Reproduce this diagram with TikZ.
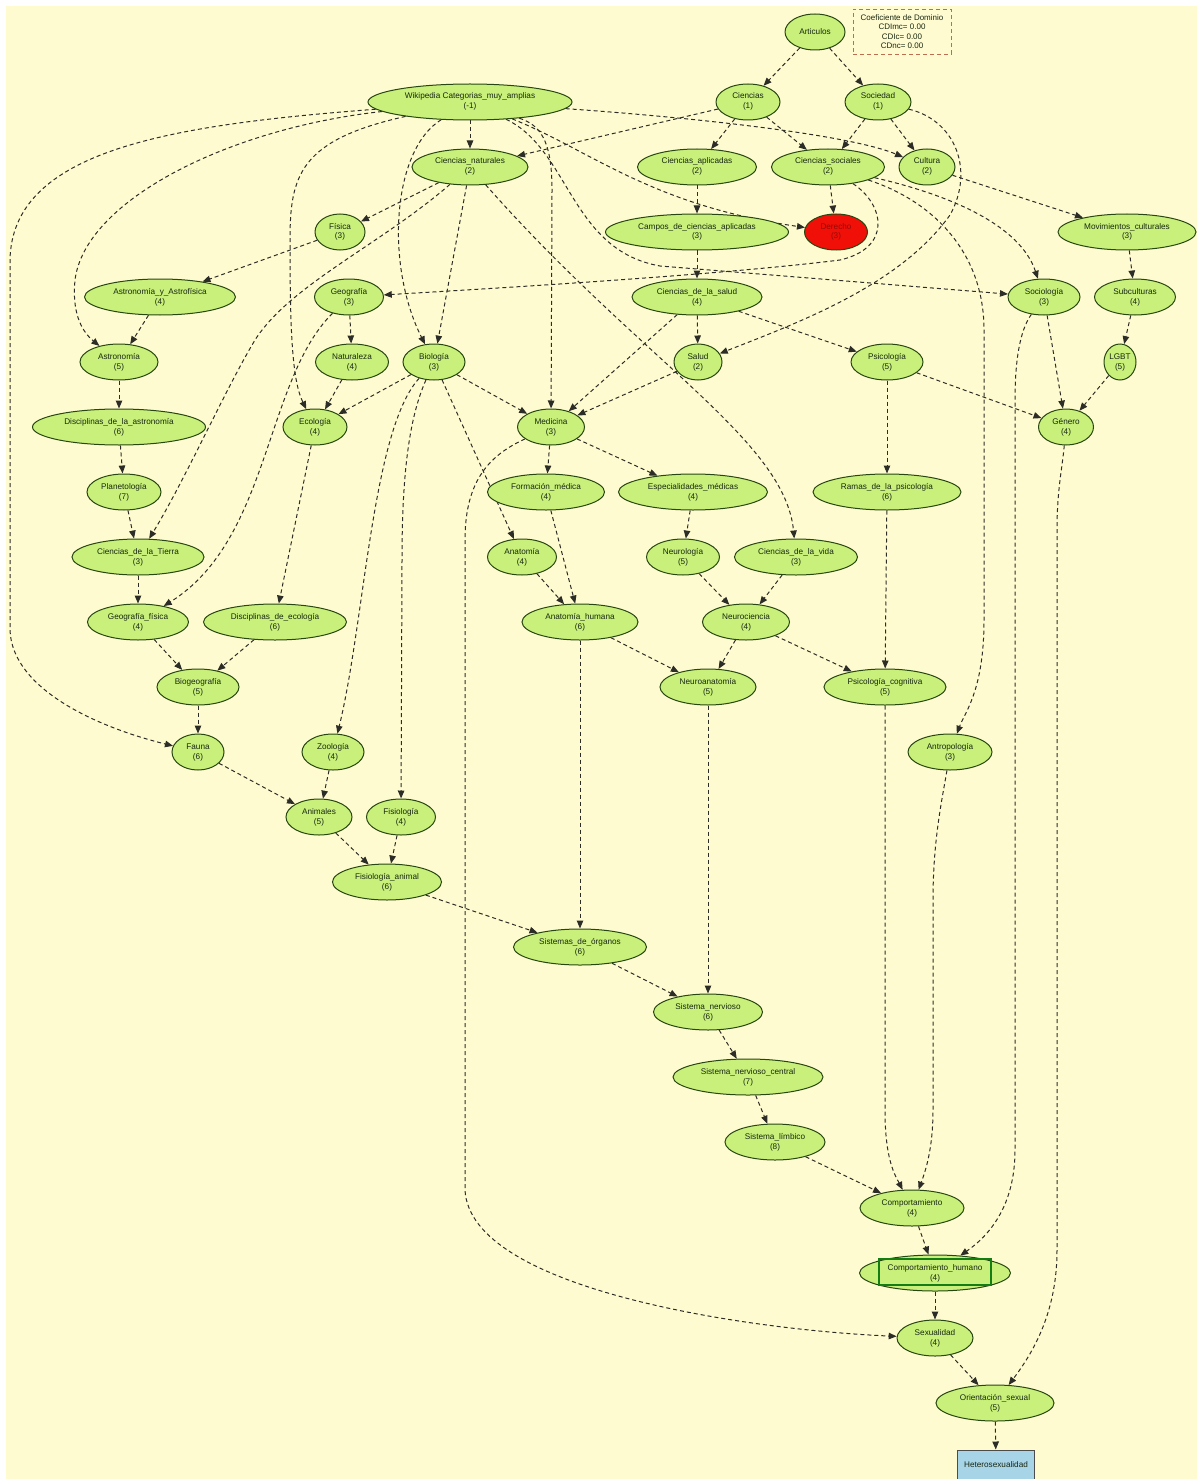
\documentclass[tikz,border=0pt]{standalone}
\usepackage{fontspec}
\setmainfont{Liberation Sans}
\usetikzlibrary{shapes.geometric,arrows.meta}
\pgfdeclarelayer{back}
\pgfdeclarelayer{edgelayer}
\pgfsetlayers{back,edgelayer,main}
\definecolor{bg}{RGB}{255,251,208}
\definecolor{nodefill}{RGB}{200,240,122}
\definecolor{nodeline}{RGB}{40,70,18}
\definecolor{edgecol}{RGB}{45,45,40}
\definecolor{txt}{RGB}{25,40,18}
\definecolor{redfill}{RGB}{240,16,8}
\definecolor{redtxt}{RGB}{150,10,5}
\definecolor{bluefill}{RGB}{168,212,232}
\definecolor{legcol}{RGB}{190,110,80}
\definecolor{hlgreen}{RGB}{20,125,20}
\newcommand{\nlab}[2]{\makebox[0pt]{\begin{tabular}{@{}c@{}}#1\\#2\end{tabular}}}
\begin{document}
\begin{tikzpicture}[x=1pt,y=-1pt,
  nd/.style={ellipse,draw=nodeline,fill=nodefill,line width=1pt,minimum height=36pt,
             inner sep=0pt,text=txt,font=\fontsize{8.2}{10}\selectfont},
  ed/.style={draw=edgecol,line width=1pt,dash pattern=on 4pt off 3pt,
             -{Triangle[length=8pt,width=6.5pt]}},
]
\begin{pgfonlayer}{back}
\fill[white] (0,0) rectangle (1197,1479);
\fill[bg] (6,6) rectangle (1197,1479);
\end{pgfonlayer}
\useasboundingbox (0,0) rectangle (1197,1479);

% legend
\node[draw=legcol,dash pattern=on 4pt off 3pt,line width=0.9pt,minimum width=98pt,minimum height=45pt,
      inner sep=0pt,align=center,text=txt,font=\fontsize{8}{9.3}\selectfont] (legend) at (902,31.5)
      {Coeficiente de Dominio\\CDImc= 0.00\\CDIc= 0.00\\CDnc= 0.00};

% nodes
\node[nd,minimum width=60pt] (articulos) at (815,32) {\makebox[0pt]{Articulos}};
\node[nd,minimum width=204pt] (wiki) at (470,102) {\nlab{Wikipedia Categorias\_muy\_amplias}{(-1)}};
\node[nd,minimum width=64pt] (ciencias) at (748,102) {\nlab{Ciencias}{(1)}};
\node[nd,minimum width=66pt] (sociedad) at (878,102) {\nlab{Sociedad}{(1)}};
\node[nd,minimum width=116pt] (cnat) at (470,167) {\nlab{Ciencias\_naturales}{(2)}};
\node[nd,minimum width=119pt] (capl) at (697,167) {\nlab{Ciencias\_aplicadas}{(2)}};
\node[nd,minimum width=113pt] (csoc) at (828,167) {\nlab{Ciencias\_sociales}{(2)}};
\node[nd,minimum width=56pt] (cultura) at (927,167) {\nlab{Cultura}{(2)}};
\node[nd,minimum width=50pt] (fisica) at (340,232) {\nlab{Física}{(3)}};
\node[nd,minimum width=183pt] (campos) at (697,232) {\nlab{Campos\_de\_ciencias\_aplicadas}{(3)}};
\node[nd,minimum width=63pt,fill=redfill,text=redtxt] (derecho) at (836,232) {\nlab{Derecho}{(3)}};
\node[nd,minimum width=138pt] (movc) at (1127,232) {\nlab{Movimientos\_culturales}{(3)}};
\node[nd,minimum width=151pt] (astrof) at (160,297) {\nlab{Astronomía\_y\_Astrofísica}{(4)}};
\node[nd,minimum width=69pt] (geografia) at (349,297) {\nlab{Geografía}{(3)}};
\node[nd,minimum width=130pt] (csalud) at (697,297) {\nlab{Ciencias\_de\_la\_salud}{(4)}};
\node[nd,minimum width=72pt] (sociologia) at (1044,297) {\nlab{Sociología}{(3)}};
\node[nd,minimum width=81pt] (subcult) at (1135,297) {\nlab{Subculturas}{(4)}};
\node[nd,minimum width=78pt] (astronomia) at (119,362) {\nlab{Astronomía}{(5)}};
\node[nd,minimum width=73pt] (naturaleza) at (352,362) {\nlab{Naturaleza}{(4)}};
\node[nd,minimum width=62pt] (biologia) at (434,362) {\nlab{Biología}{(3)}};
\node[nd,minimum width=48pt] (salud) at (698,362) {\nlab{Salud}{(2)}};
\node[nd,minimum width=72pt] (psicologia) at (887,362) {\nlab{Psicología}{(5)}};
\node[nd,minimum width=32pt] (lgbt) at (1120,362) {\nlab{LGBT}{(5)}};
\node[nd,minimum width=173pt] (discastro) at (119,427) {\nlab{Disciplinas\_de\_la\_astronomía}{(6)}};
\node[nd,minimum width=64pt] (ecologia) at (315,427) {\nlab{Ecología}{(4)}};
\node[nd,minimum width=67pt] (medicina) at (551,427) {\nlab{Medicina}{(3)}};
\node[nd,minimum width=55pt] (genero) at (1066,427) {\nlab{Género}{(4)}};
\node[nd,minimum width=74pt] (planetologia) at (124,492) {\nlab{Planetología}{(7)}};
\node[nd,minimum width=117pt] (formmed) at (546,492) {\nlab{Formación\_médica}{(4)}};
\node[nd,minimum width=149pt] (espmed) at (693,492) {\nlab{Especialidades\_médicas}{(4)}};
\node[nd,minimum width=148pt] (ramas) at (887,492) {\nlab{Ramas\_de\_la\_psicología}{(6)}};
\node[nd,minimum width=132pt] (ctierra) at (138,557) {\nlab{Ciencias\_de\_la\_Tierra}{(3)}};
\node[nd,minimum width=69pt] (anatomia) at (522,557) {\nlab{Anatomía}{(4)}};
\node[nd,minimum width=73pt] (neurologia) at (683,557) {\nlab{Neurología}{(5)}};
\node[nd,minimum width=123pt] (cvida) at (796,557) {\nlab{Ciencias\_de\_la\_vida}{(3)}};
\node[nd,minimum width=101pt] (geofis) at (138,622) {\nlab{Geografía\_física}{(4)}};
\node[nd,minimum width=143pt] (discecol) at (275,622) {\nlab{Disciplinas\_de\_ecología}{(6)}};
\node[nd,minimum width=116pt] (anathum) at (580,622) {\nlab{Anatomía\_humana}{(6)}};
\node[nd,minimum width=87pt] (neurociencia) at (746,622) {\nlab{Neurociencia}{(4)}};
\node[nd,minimum width=82pt] (biogeo) at (198,687) {\nlab{Biogeografía}{(5)}};
\node[nd,minimum width=96pt] (neuroanat) at (708,687) {\nlab{Neuroanatomía}{(5)}};
\node[nd,minimum width=122pt] (psicog) at (885,687) {\nlab{Psicología\_cognitiva}{(5)}};
\node[nd,minimum width=52pt] (fauna) at (198,752) {\nlab{Fauna}{(6)}};
\node[nd,minimum width=62pt] (zoologia) at (333,752) {\nlab{Zoología}{(4)}};
\node[nd,minimum width=84pt] (antropologia) at (950,752) {\nlab{Antropología}{(3)}};
\node[nd,minimum width=66pt] (animales) at (319,817) {\nlab{Animales}{(5)}};
\node[nd,minimum width=69pt] (fisiologia) at (401,817) {\nlab{Fisiología}{(4)}};
\node[nd,minimum width=109pt] (fisanimal) at (387,882) {\nlab{Fisiología\_animal}{(6)}};
\node[nd,minimum width=133pt] (sisorg) at (580,947) {\nlab{Sistemas\_de\_órganos}{(6)}};
\node[nd,minimum width=109pt] (sisnerv) at (708,1012) {\nlab{Sistema\_nervioso}{(6)}};
\node[nd,minimum width=150pt] (snc) at (748,1077) {\nlab{Sistema\_nervioso\_central}{(7)}};
\node[nd,minimum width=100pt] (limbico) at (775,1142) {\nlab{Sistema\_límbico}{(8)}};
\node[nd,minimum width=104pt] (comport) at (912,1208) {\nlab{Comportamiento}{(4)}};
\node[nd,minimum width=151pt] (comphum) at (935,1273) {\nlab{Comportamiento\_humano}{(4)}};
\node[nd,minimum width=76pt] (sexualidad) at (935,1338) {\nlab{Sexualidad}{(4)}};
\node[nd,minimum width=118pt] (orient) at (995,1403) {\nlab{Orientación\_sexual}{(5)}};
\node[rectangle,draw=black!70,fill=bluefill,line width=1pt,minimum width=77pt,minimum height=30pt,
      inner sep=0pt,text=txt,font=\fontsize{8.2}{10}\selectfont] (hetero) at (996,1465) {Heterosexualidad};
\draw[hlgreen,line width=2.5pt] (879,1259) rectangle (991,1285);

% edges
\begin{pgfonlayer}{edgelayer}
\draw[ed] (articulos) -- (ciencias);
\draw[ed] (articulos) -- (sociedad);
\draw[ed] (wiki) -- (cnat);
\draw[ed] (ciencias) -- (cnat);
\draw[ed] (ciencias) -- (capl);
\draw[ed] (ciencias) -- (csoc);
\draw[ed] (sociedad) -- (csoc);
\draw[ed] (sociedad) -- (cultura);
\draw[ed] (wiki) .. controls (700,118) and (850,135) .. (cultura);
\draw[ed] (sociedad) .. controls (955,120) and (975,170) .. (950,215) .. controls (900,285) and (800,322) .. (salud);
\draw[ed] (wiki) .. controls (170,125) and (12,150) .. (10,260) -- (10,630) .. controls (12,690) and (100,728) .. (fauna);
\draw[ed] (wiki) .. controls (230,128) and (85,200) .. (75,280) .. controls (72,310) and (80,330) .. (astronomia);
\draw[ed] (wiki) .. controls (300,140) and (290,175) .. (290,240) .. controls (290,330) and (292,380) .. (ecologia);
\draw[ed] (wiki) .. controls (392,150) and (385,265) .. (biologia);
\draw[ed] (wiki) .. controls (540,125) and (552,140) .. (552,190) -- (medicina);
\draw[ed] (wiki) .. controls (590,150) and (650,205) .. (derecho);
\draw[ed] (wiki) .. controls (570,150) and (570,250) .. (660,266) -- (sociologia);
\draw[ed] (cnat) -- (fisica);
\draw[ed] (cnat) -- (biologia);
\draw[ed] (cnat) .. controls (380,245) and (290,285) .. (255,340) .. controls (225,390) and (185,480) .. (ctierra);
\draw[ed] (cnat) .. controls (640,360) and (785,440) .. (cvida);
\draw[ed] (capl) -- (campos);
\draw[ed] (campos) -- (csalud);
\draw[ed] (csoc) -- (derecho);
\draw[ed] (csoc) .. controls (885,205) and (892,248) .. (840,260) .. controls (720,275) and (500,288) .. (geografia);
\draw[ed] (csoc) .. controls (950,195) and (1020,225) .. (sociologia);
\draw[ed] (csoc) .. controls (930,200) and (984,250) .. (984,330) -- (984,620) .. controls (984,690) and (965,712) .. (antropologia);
\draw[ed] (cultura) -- (movc);
\draw[ed] (movc) -- (subcult);
\draw[ed] (subcult) -- (lgbt);
\draw[ed] (lgbt) -- (genero);
\draw[ed] (fisica) -- (astrof);
\draw[ed] (astrof) -- (astronomia);
\draw[ed] (geografia) -- (naturaleza);
\draw[ed] (geografia) .. controls (265,380) and (270,540) .. (geofis);
\draw[ed] (naturaleza) -- (ecologia);
\draw[ed] (biologia) -- (ecologia);
\draw[ed] (biologia) -- (medicina);
\draw[ed] (biologia) -- (anatomia);
\draw[ed] (biologia) .. controls (372,430) and (365,620) .. (zoologia);
\draw[ed] (biologia) .. controls (408,420) and (402,480) .. (402,560) -- (fisiologia);
\draw[ed] (csalud) -- (salud);
\draw[ed] (csalud) -- (medicina);
\draw[ed] (csalud) -- (psicologia);
\draw[ed] (salud) -- (medicina);
\draw[ed] (sociologia) -- (genero);
\draw[ed] (sociologia) .. controls (1020,330) and (1015,360) .. (1015,400) -- (1015,1150) .. controls (1015,1205) and (990,1235) .. (comphum);
\draw[ed] (psicologia) -- (genero);
\draw[ed] (psicologia) -- (ramas);
\draw[ed] (astronomia) -- (discastro);
\draw[ed] (discastro) -- (planetologia);
\draw[ed] (planetologia) -- (ctierra);
\draw[ed] (ctierra) -- (geofis);
\draw[ed] (ecologia) -- (discecol);
\draw[ed] (medicina) -- (formmed);
\draw[ed] (medicina) -- (espmed);
\draw[ed] (medicina) .. controls (490,455) and (465,480) .. (465,540) -- (465,1190) .. controls (470,1290) and (750,1330) .. (sexualidad);
\draw[ed] (genero) .. controls (1062,470) and (1057,490) .. (1057,530) -- (1057,1250) .. controls (1057,1310) and (1035,1350) .. (orient);
\draw[ed] (formmed) -- (anathum);
\draw[ed] (espmed) -- (neurologia);
\draw[ed] (ramas) -- (psicog);
\draw[ed] (anatomia) -- (anathum);
\draw[ed] (neurologia) -- (neurociencia);
\draw[ed] (cvida) -- (neurociencia);
\draw[ed] (geofis) -- (biogeo);
\draw[ed] (discecol) -- (biogeo);
\draw[ed] (anathum) -- (neuroanat);
\draw[ed] (anathum) -- (sisorg);
\draw[ed] (neurociencia) -- (neuroanat);
\draw[ed] (neurociencia) -- (psicog);
\draw[ed] (biogeo) -- (fauna);
\draw[ed] (neuroanat) -- (sisnerv);
\draw[ed] (psicog) -- (885,1110) .. controls (885,1160) and (895,1175) .. (comport);
\draw[ed] (fauna) -- (animales);
\draw[ed] (zoologia) -- (animales);
\draw[ed] (antropologia) .. controls (942,800) and (933,840) .. (933,900) -- (933,1110) .. controls (933,1150) and (925,1172) .. (comport);
\draw[ed] (animales) -- (fisanimal);
\draw[ed] (fisiologia) -- (fisanimal);
\draw[ed] (fisanimal) -- (sisorg);
\draw[ed] (sisorg) -- (sisnerv);
\draw[ed] (sisnerv) -- (snc);
\draw[ed] (snc) -- (limbico);
\draw[ed] (limbico) -- (comport);
\draw[ed] (comport) -- (comphum);
\draw[ed] (comphum) -- (sexualidad);
\draw[ed] (sexualidad) -- (orient);
\draw[ed] (orient) -- (hetero);
\end{pgfonlayer}
\end{tikzpicture}
\end{document}
